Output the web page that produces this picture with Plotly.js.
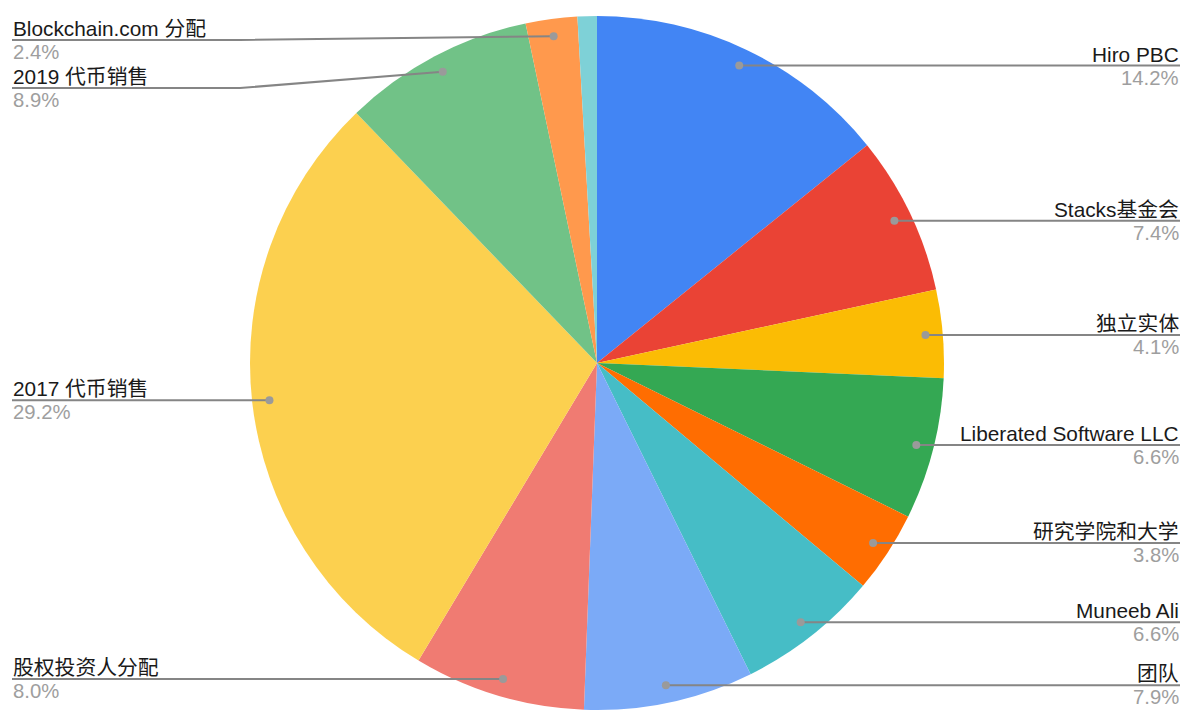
<!DOCTYPE html>
<html><head><meta charset="utf-8">
<script src="https://cdn.plot.ly/plotly-3.0.1.min.js"></script>
<style>html,body{margin:0;padding:0;background:#fff}#chart{width:1204px;height:723px}</style>
</head><body><div id="chart"></div>
<script>
// ---- data ----
var labels = ["Hiro PBC","Stacks基金会","独立实体","Liberated Software LLC","研究学院和大学","Muneeb Ali","团队","股权投资人分配","2017 代币销售","2019 代币销售","Blockchain.com 分配","其他"];
var values = [14.2, 7.4, 4.1, 6.6, 3.8, 6.6, 7.9, 8.0, 29.2, 8.9, 2.4, 0.9];
var showLabel = [true,true,true,true,true,true,true,true,true,true,true,false];
var colors = ["#4285F4","#EA4335","#FBBC04","#34A853","#FF6D01","#46BDC6","#7BAAF7","#F07B72","#FCD04F","#71C287","#FF994D","#7ED1D7"];

// ---- layout constants (px) ----
var W = 1204, H = 723;
var CX = 597, CY = 363, R = 347;
var DOT_R = 0.95 * R;
var EDGE_L = 12, EDGE_R = 1180;
var GAP = 48, TOP_MIN = 40;
var FONT = "Liberation Sans, Arial, 'Noto Sans CJK SC', sans-serif";
var FS_NAME = 20.8, FS_PCT = 20.3;

var total = values.reduce(function(a,b){return a+b;},0);
var cum = 0, items = [];
for (var i = 0; i < values.length; i++) {
  var mid = (cum + values[i]/2) / total * 2 * Math.PI;
  cum += values[i];
  if (!showLabel[i]) continue;
  var dx = CX + DOT_R * Math.sin(mid), dy = CY - DOT_R * Math.cos(mid);
  items.push({i:i, dx:dx, dy:dy, side: Math.sin(mid) >= 0 ? 'R' : 'L'});
}
['L','R'].forEach(function(s){
  var arr = items.filter(function(o){return o.side===s;}).sort(function(a,b){return a.dy-b.dy;});
  var prev = -Infinity;
  arr.forEach(function(o){ o.ly = Math.max(o.dy, prev + GAP, TOP_MIN); prev = o.ly; });
});

var traces = [{
  type:'pie', labels:labels, values:values, sort:false, direction:'clockwise', rotation:0,
  marker:{colors:colors, line:{width:0}}, textinfo:'none', hoverinfo:'label+percent', showlegend:false,
  domain:{x:[(CX-R)/W,(CX+R)/W], y:[(H-CY-R)/H,(H-CY+R)/H]}
}];
var annotations = [], shapes = [];
items.forEach(function(o){
  var edge = o.side==='R' ? EDGE_R : EDGE_L;
  var bend = o.side==='R' ? CX+R+10 : CX-R-10;
  var path = 'M' + o.dx + ',' + o.dy;
  if (Math.abs(o.ly - o.dy) > 0.5) path += ' L' + bend + ',' + o.ly;
  path += ' L' + edge + ',' + o.ly;
  shapes.push({type:'path', xref:'x', yref:'y', path:path, layer:'above', line:{color:'#858585', width:2}});
  shapes.push({type:'circle', xref:'x', yref:'y', x0:o.dx-4, x1:o.dx+4, y0:o.dy-4, y1:o.dy+4, layer:'above',
    fillcolor:'#9a9a9a', line:{width:0}});
  var anc = o.side==='R' ? 'right' : 'left';
  annotations.push({x:edge, y:o.ly, xref:'x', yref:'y', text:labels[o.i], showarrow:false, xanchor:anc, yanchor:'bottom', yshift:-1,
    font:{family:FONT, size:FS_NAME, color:'#1a1a1a'}, borderpad:0});
  annotations.push({x:edge, y:o.ly, xref:'x', yref:'y', text:values[o.i].toFixed(1)+'%', showarrow:false, xanchor:anc, yanchor:'top', yshift:0,
    font:{family:FONT, size:FS_PCT, color:'#9e9e9e'}, borderpad:0});
});

var layout = {
  width:W, height:H, margin:{l:0,r:0,t:0,b:0}, paper_bgcolor:'#ffffff', plot_bgcolor:'rgba(0,0,0,0)',
  xaxis:{range:[0,W], visible:false, fixedrange:true, domain:[0,1]},
  yaxis:{range:[H,0], visible:false, fixedrange:true, domain:[0,1]},
  annotations:annotations, shapes:shapes, showlegend:false
};
Plotly.newPlot('chart', traces, layout, {displayModeBar:false, staticPlot:true});
</script></body></html>
